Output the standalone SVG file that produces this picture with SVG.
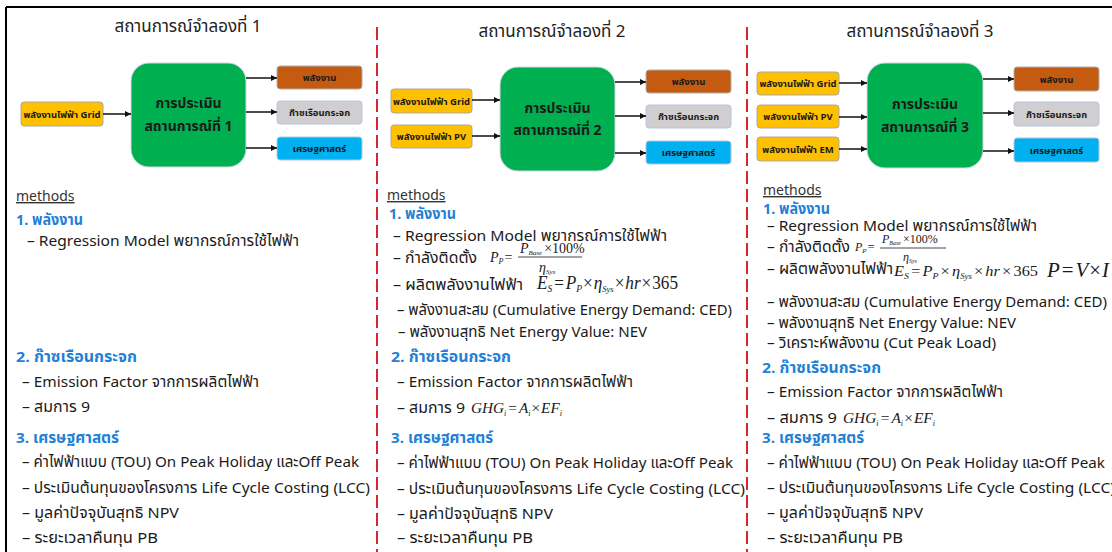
<svg xmlns="http://www.w3.org/2000/svg" width="1112" height="552" viewBox="0 0 1112 552">
  <style>
    .th { font-family: "Noto Sans Thai", "Noto Sans", "Liberation Sans", sans-serif; }
    .title { font-size: 17px; fill: #222; text-anchor: middle; }
    .body { font-size: 15px; fill: #1a1a1a; }
    .head { font-size: 15px; fill: #1f80d6; font-weight: bold; }
    .meth { font-size: 14px; fill: #333; text-decoration: underline; }
    .lbl { font-size: 9.5px; font-weight: bold; fill: #1a1a1a; text-anchor: middle; }
    .big { font-size: 14px; font-weight: bold; fill: #1a1a1a; text-anchor: middle; }
    .in { fill: #ffc000; stroke: #a9a9a9; stroke-width: 1; }
    .core { fill: #00b050; stroke: #cfd8e3; stroke-width: 1; }
    .o1 { fill: #c55a11; stroke: #b0b0b0; stroke-width: 1; }
    .o2 { fill: #d0cece; stroke: #b4c7dc; stroke-width: 1; }
    .o3 { fill: #00b0f0; stroke: #b4c7dc; stroke-width: 1; }
    .arr { stroke: #111; stroke-width: 1.5; fill: none; marker-end: url(#ah); }
    .sep { stroke: #d9262c; stroke-width: 2; stroke-dasharray: 13 5; }
    .frame { stroke: #000; stroke-width: 2; }
    .m { font-family: "Liberation Serif", "Times New Roman", serif; fill: #1a1a1a; font-style: italic; }
    .up { font-style: normal; }
    .bar { stroke: #1a1a1a; stroke-width: 0.8; }
  </style>
  <defs>
    <marker id="ah" markerUnits="userSpaceOnUse" markerWidth="6" markerHeight="6" refX="6" refY="3" orient="auto">
      <path d="M0,0 L6,3 L0,6 z" fill="#111"/>
    </marker>
  </defs>

  <!-- outer frame and section separators -->
  <line class="frame" x1="6" y1="7" x2="1112" y2="7"/>
  <line class="frame" x1="6" y1="7" x2="6" y2="552"/>
  <line class="sep" x1="377" y1="27" x2="377" y2="552"/>
  <line class="sep" x1="747" y1="27" x2="747" y2="552"/>

  <!-- titles -->
  <text class="th title" x="188" y="32">สถานการณ์จำลองที่ 1</text>
  <text class="th title" x="552" y="37">สถานการณ์จำลองที่ 2</text>
  <text class="th title" x="920" y="37">สถานการณ์จำลองที่ 3</text>

  <!-- scenario 1 -->
  <g id="s1-grid"><rect class="in" x="21" y="102" width="82" height="24" rx="3"/><text class="th lbl" x="62" y="117.5">พลังงานไฟฟ้า Grid</text></g>
  <g id="s1-core"><rect class="core" x="131" y="63" width="115" height="104" rx="18"/><text class="th big" x="188.5" y="108">การประเมิน</text><text class="th big" x="188.5" y="131">สถานการณ์ที่ 1</text></g>
  <g id="s1-energy"><rect class="o1" x="277" y="66" width="85" height="23" rx="3"/><text class="th lbl" x="319.5" y="81">พลังงาน</text></g>
  <g id="s1-ghg"><rect class="o2" x="277" y="101" width="85" height="23" rx="3"/><text class="th lbl" x="319.5" y="116">ก๊าซเรือนกระจก</text></g>
  <g id="s1-econ"><rect class="o3" x="277" y="137" width="85" height="23" rx="3"/><text class="th lbl" x="319.5" y="152">เศรษฐศาสตร์</text></g>

  <!-- scenario 2 -->
  <g id="s2-grid"><rect class="in" x="391" y="89" width="81" height="24" rx="3"/><text class="th lbl" x="431.5" y="104.5">พลังงานไฟฟ้า Grid</text></g>
  <g id="s2-pv"><rect class="in" x="391" y="125" width="81" height="23" rx="3"/><text class="th lbl" x="431.5" y="140">พลังงานไฟฟ้า PV</text></g>
  <g id="s2-core"><rect class="core" x="500" y="67" width="115" height="104" rx="18"/><text class="th big" x="557.5" y="113">การประเมิน</text><text class="th big" x="557.5" y="135">สถานการณ์ที่ 2</text></g>
  <g id="s2-energy"><rect class="o1" x="646" y="70" width="85" height="23" rx="3"/><text class="th lbl" x="688.5" y="85">พลังงาน</text></g>
  <g id="s2-ghg"><rect class="o2" x="646" y="105" width="85" height="23" rx="3"/><text class="th lbl" x="688.5" y="120">ก๊าซเรือนกระจก</text></g>
  <g id="s2-econ"><rect class="o3" x="646" y="141" width="85" height="23" rx="3"/><text class="th lbl" x="688.5" y="156">เศรษฐศาสตร์</text></g>

  <!-- scenario 3 -->
  <g id="s3-grid"><rect class="in" x="757" y="72" width="82" height="23" rx="3"/><text class="th lbl" x="798" y="87">พลังงานไฟฟ้า Grid</text></g>
  <g id="s3-pv"><rect class="in" x="757" y="105" width="82" height="23" rx="3"/><text class="th lbl" x="798" y="120">พลังงานไฟฟ้า PV</text></g>
  <g id="s3-em"><rect class="in" x="757" y="137" width="82" height="24" rx="3"/><text class="th lbl" x="798" y="152.5">พลังงานไฟฟ้า EM</text></g>
  <g id="s3-core"><rect class="core" x="867" y="63" width="116" height="105" rx="18"/><text class="th big" x="925" y="109">การประเมิน</text><text class="th big" x="925" y="132">สถานการณ์ที่ 3</text></g>
  <g id="s3-energy"><rect class="o1" x="1014" y="67" width="85" height="24" rx="3"/><text class="th lbl" x="1056.5" y="82.5">พลังงาน</text></g>
  <g id="s3-ghg"><rect class="o2" x="1014" y="102" width="85" height="24" rx="3"/><text class="th lbl" x="1056.5" y="117.5">ก๊าซเรือนกระจก</text></g>
  <g id="s3-econ"><rect class="o3" x="1014" y="138" width="85" height="24" rx="3"/><text class="th lbl" x="1056.5" y="153.5">เศรษฐศาสตร์</text></g>

  <!-- connectors -->
  <g id="connectors">
    <line class="arr" x1="103" y1="114" x2="131" y2="114"/>
    <line class="arr" x1="246" y1="78" x2="277" y2="78"/>
    <line class="arr" x1="246" y1="112" x2="277" y2="112"/>
    <line class="arr" x1="246" y1="148" x2="277" y2="148"/>

    <line class="arr" x1="472" y1="100" x2="500" y2="100"/>
    <line class="arr" x1="472" y1="136" x2="500" y2="136"/>
    <line class="arr" x1="615" y1="82" x2="646" y2="82"/>
    <line class="arr" x1="615" y1="116" x2="646" y2="116"/>
    <line class="arr" x1="615" y1="153" x2="646" y2="153"/>

    <line class="arr" x1="839" y1="83" x2="867" y2="83"/>
    <line class="arr" x1="839" y1="117" x2="867" y2="117"/>
    <line class="arr" x1="839" y1="149" x2="867" y2="149"/>
    <line class="arr" x1="983" y1="79" x2="1014" y2="79"/>
    <line class="arr" x1="983" y1="113" x2="1014" y2="113"/>
    <line class="arr" x1="983" y1="151" x2="1014" y2="151"/>
  </g>

  <!-- scenario 1 methods -->
  <g id="s1-methods">
    <text class="th meth" x="16" y="201">methods</text>
    <text class="th head" x="16" y="225" textLength="67" lengthAdjust="spacingAndGlyphs">1. พลังงาน</text>
    <text class="th body" x="27" y="246" textLength="272" lengthAdjust="spacingAndGlyphs">– Regression Model พยากรณ์การใช้ไฟฟ้า</text>
    <text class="th head" x="16" y="362" textLength="121" lengthAdjust="spacingAndGlyphs">2. ก๊าซเรือนกระจก</text>
    <text class="th body" x="22" y="387" textLength="237" lengthAdjust="spacingAndGlyphs">– Emission Factor จากการผลิตไฟฟ้า</text>
    <text class="th body" x="22" y="412" textLength="68" lengthAdjust="spacingAndGlyphs">– สมการ 9</text>
    <text class="th head" x="16" y="443" textLength="103" lengthAdjust="spacingAndGlyphs">3. เศรษฐศาสตร์</text>
    <text class="th body" x="22" y="467" textLength="337" lengthAdjust="spacingAndGlyphs">– ค่าไฟฟ้าแบบ (TOU) On Peak Holiday และOff Peak</text>
    <text class="th body" x="22" y="493" textLength="348" lengthAdjust="spacingAndGlyphs">– ประเมินต้นทุนของโครงการ Life Cycle Costing (LCC)</text>
    <text class="th body" x="22" y="518" textLength="157" lengthAdjust="spacingAndGlyphs">– มูลค่าปัจจุบันสุทธิ NPV</text>
    <text class="th body" x="22" y="543" textLength="136" lengthAdjust="spacingAndGlyphs">– ระยะเวลาคืนทุน PB</text>
  </g>

  <!-- scenario 2 methods -->
  <g id="s2-methods">
    <text class="th meth" x="387" y="200">methods</text>
    <text class="th head" x="389" y="219" textLength="67" lengthAdjust="spacingAndGlyphs">1. พลังงาน</text>
    <text class="th body" x="393" y="241" textLength="274" lengthAdjust="spacingAndGlyphs">– Regression Model พยากรณ์การใช้ไฟฟ้า</text>
    <text class="th body" x="393" y="263" textLength="84" lengthAdjust="spacingAndGlyphs">– กำลังติดตั้ง</text>
    <text class="m" x="490" y="262" font-size="14">P<tspan font-size="8" dy="2">P</tspan><tspan class="up" dy="-2" dx="1">=</tspan></text>
    <text class="m" x="520" y="253" font-size="14">P<tspan font-size="7" dy="2">Base</tspan><tspan class="up" dy="-2" dx="2">×100%</tspan></text>
    <line class="bar" x1="518" y1="257" x2="582" y2="257"/>
    <text class="m" x="539" y="272" font-size="14">η<tspan font-size="7" dy="2">Sys</tspan></text>
    <text class="th body" x="393" y="290" textLength="130" lengthAdjust="spacingAndGlyphs">– ผลิตพลังงานไฟฟ้า</text>
    <text class="m" x="537" y="289" font-size="18" textLength="141" lengthAdjust="spacingAndGlyphs">E<tspan font-size="10" dy="3">S</tspan><tspan class="up" dy="-3" dx="2">=</tspan><tspan dx="2">P</tspan><tspan font-size="10" dy="3">P</tspan><tspan class="up" dy="-3" dx="1">×</tspan><tspan dx="1">η</tspan><tspan font-size="9" dy="3">Sys</tspan><tspan class="up" dy="-3" dx="1">×</tspan><tspan dx="1">hr</tspan><tspan class="up" dx="1">×</tspan><tspan class="up" dx="1">365</tspan></text>
    <text class="th body" x="397" y="315" textLength="335" lengthAdjust="spacingAndGlyphs">– พลังงานสะสม (Cumulative Energy Demand: CED)</text>
    <text class="th body" x="398" y="337" textLength="249" lengthAdjust="spacingAndGlyphs">– พลังงานสุทธิ Net Energy Value: NEV</text>
    <text class="th head" x="391" y="362" textLength="120" lengthAdjust="spacingAndGlyphs">2. ก๊าซเรือนกระจก</text>
    <text class="th body" x="397" y="387" textLength="236" lengthAdjust="spacingAndGlyphs">– Emission Factor จากการผลิตไฟฟ้า</text>
    <text class="th body" x="397" y="413" textLength="68" lengthAdjust="spacingAndGlyphs">– สมการ 9</text>
    <text class="m" x="471" y="413" font-size="15" textLength="91" lengthAdjust="spacingAndGlyphs">GHG<tspan font-size="8" dy="3">i</tspan><tspan class="up" dy="-3" dx="2">=</tspan><tspan dx="2">A</tspan><tspan font-size="8" dy="3">i</tspan><tspan class="up" dy="-3" dx="1">×</tspan><tspan dx="1">EF</tspan><tspan font-size="8" dy="3">i</tspan></text>
    <text class="th head" x="391" y="443" textLength="102" lengthAdjust="spacingAndGlyphs">3. เศรษฐศาสตร์</text>
    <text class="th body" x="397" y="468" textLength="336" lengthAdjust="spacingAndGlyphs">– ค่าไฟฟ้าแบบ (TOU) On Peak Holiday และOff Peak</text>
    <text class="th body" x="397" y="494" textLength="348" lengthAdjust="spacingAndGlyphs">– ประเมินต้นทุนของโครงการ Life Cycle Costing (LCC)</text>
    <text class="th body" x="397" y="519" textLength="156" lengthAdjust="spacingAndGlyphs">– มูลค่าปัจจุบันสุทธิ NPV</text>
    <text class="th body" x="397" y="543" textLength="136" lengthAdjust="spacingAndGlyphs">– ระยะเวลาคืนทุน PB</text>
  </g>

  <!-- scenario 3 methods -->
  <g id="s3-methods">
    <text class="th meth" x="763" y="195">methods</text>
    <text class="th head" x="763" y="214" textLength="67" lengthAdjust="spacingAndGlyphs">1. พลังงาน</text>
    <text class="th body" x="767" y="231" textLength="270" lengthAdjust="spacingAndGlyphs">– Regression Model พยากรณ์การใช้ไฟฟ้า</text>
    <text class="th body" x="767" y="252" textLength="83" lengthAdjust="spacingAndGlyphs">– กำลังติดตั้ง</text>
    <text class="m" x="855" y="251" font-size="12">P<tspan font-size="7" dy="2">P</tspan><tspan class="up" dy="-2" dx="1">=</tspan></text>
    <text class="m" x="882" y="243" font-size="12">P<tspan font-size="6" dy="2">Base</tspan><tspan class="up" dy="-2" dx="2">×100%</tspan></text>
    <line class="bar" x1="880" y1="248" x2="946" y2="248"/>
    <text class="m" x="903" y="261" font-size="12">η<tspan font-size="6" dy="2">Sys</tspan></text>
    <text class="th body" x="767" y="274" textLength="126" lengthAdjust="spacingAndGlyphs">– ผลิตพลังงานไฟฟ้า</text>
    <text class="m" x="894" y="276" font-size="15" textLength="144" lengthAdjust="spacingAndGlyphs">E<tspan font-size="9" dy="3">S</tspan><tspan class="up" dy="-3" dx="2">=</tspan><tspan dx="2">P</tspan><tspan font-size="9" dy="3">P</tspan><tspan class="up" dy="-3" dx="2">×</tspan><tspan dx="2">η</tspan><tspan font-size="8" dy="3">Sys</tspan><tspan class="up" dy="-3" dx="2">×</tspan><tspan dx="2">hr</tspan><tspan class="up" dx="2">×</tspan><tspan class="up" dx="2">365</tspan></text>
    <text class="m" x="1047" y="277" font-size="21" textLength="62" lengthAdjust="spacingAndGlyphs">P<tspan class="up" dx="2">=</tspan><tspan dx="2">V</tspan><tspan class="up" dx="1">×</tspan><tspan dx="1">I</tspan></text>
    <text class="th body" x="767" y="307" textLength="340" lengthAdjust="spacingAndGlyphs">– พลังงานสะสม (Cumulative Energy Demand: CED)</text>
    <text class="th body" x="767" y="328" textLength="249" lengthAdjust="spacingAndGlyphs">– พลังงานสุทธิ Net Energy Value: NEV</text>
    <text class="th body" x="767" y="348" textLength="229" lengthAdjust="spacingAndGlyphs">– วิเคราะห์พลังงาน (Cut Peak Load)</text>
    <text class="th head" x="762" y="373" textLength="119" lengthAdjust="spacingAndGlyphs">2. ก๊าซเรือนกระจก</text>
    <text class="th body" x="767" y="397" textLength="236" lengthAdjust="spacingAndGlyphs">– Emission Factor จากการผลิตไฟฟ้า</text>
    <text class="th body" x="767" y="423" textLength="70" lengthAdjust="spacingAndGlyphs">– สมการ 9</text>
    <text class="m" x="843" y="423" font-size="15" textLength="92" lengthAdjust="spacingAndGlyphs">GHG<tspan font-size="8" dy="3">i</tspan><tspan class="up" dy="-3" dx="2">=</tspan><tspan dx="2">A</tspan><tspan font-size="8" dy="3">i</tspan><tspan class="up" dy="-3" dx="1">×</tspan><tspan dx="1">EF</tspan><tspan font-size="8" dy="3">i</tspan></text>
    <text class="th head" x="762" y="443" textLength="102" lengthAdjust="spacingAndGlyphs">3. เศรษฐศาสตร์</text>
    <text class="th body" x="767" y="468" textLength="338" lengthAdjust="spacingAndGlyphs">– ค่าไฟฟ้าแบบ (TOU) On Peak Holiday และOff Peak</text>
    <text class="th body" x="767" y="493" textLength="348" lengthAdjust="spacingAndGlyphs">– ประเมินต้นทุนของโครงการ Life Cycle Costing (LCC)</text>
    <text class="th body" x="767" y="518" textLength="156" lengthAdjust="spacingAndGlyphs">– มูลค่าปัจจุบันสุทธิ NPV</text>
    <text class="th body" x="767" y="543" textLength="136" lengthAdjust="spacingAndGlyphs">– ระยะเวลาคืนทุน PB</text>
  </g>
</svg>
